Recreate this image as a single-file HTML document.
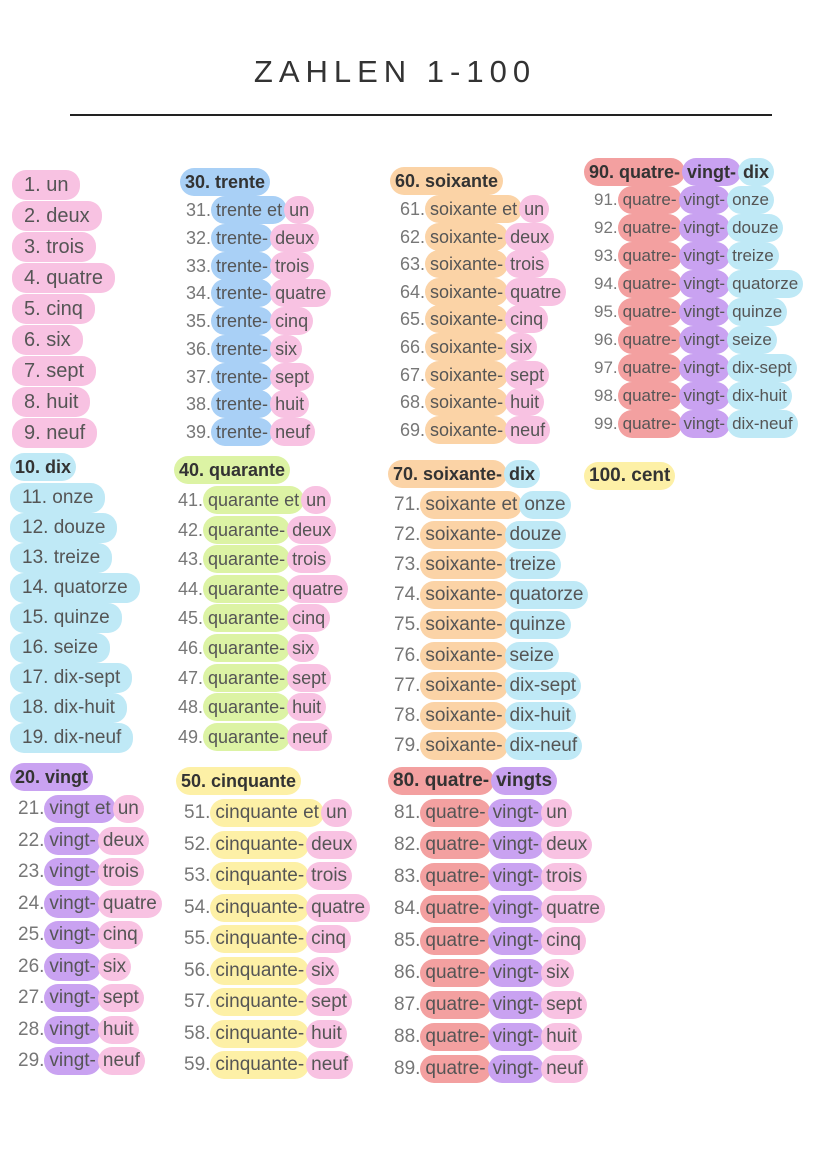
<!DOCTYPE html>
<html><head><meta charset="utf-8">
<style>
body{margin:0;background:#fff;}
#page{position:relative;width:828px;height:1171px;overflow:hidden;background:#fff;font-family:"Liberation Sans",sans-serif;}
.title{position:absolute;left:0;width:790px;text-align:center;top:54px;font-size:31px;letter-spacing:6px;color:#333;font-weight:normal;}
.rule{position:absolute;left:70px;top:114px;width:702px;height:2px;background:#222;}
.ln{position:absolute;white-space:nowrap;color:#777;line-height:28px;}
.ln span.h{display:inline-block;padding:0 5px;border-radius:14px;color:#555;margin-right:-3px;}
.ln.hd{font-weight:bold;color:#333;}
.ln.hd span.h{color:#333;}
.ln.big span.h{padding:1px 12px;}
.num{margin-right:0px;}
</style></head><body>
<div id="page">
<div class="title">ZAHLEN 1-100</div>
<div class="rule"></div>
</div>
<script>
const C={pink:'#f8c2e2',blue:'#a9d0f6',teal:'#bfe9f6',orange:'#fbd3a6',green:'#dcf3a4',yellow:'#fdf0a6',red:'#f3a0a0',purple:'#c9a2f1'};
const units=['un','deux','trois','quatre','cinq','six','sept','huit','neuf'];
const teens=['onze','douze','treize','quatorze','quinze','seize','dix-sept','dix-huit','dix-neuf'];
const page=document.getElementById('page');
function line(x,y,fs,num,segs,hd,name,extra){
  const d=document.createElement('div');
  d.className='ln'+(hd?' hd':'')+(extra?' '+extra:'');
  
  
  d.style.left=x+'px';d.style.top=(y-14)+'px';d.style.fontSize=fs+'px';
  if(num){const n=document.createElement('span');n.className='num';n.textContent=num;d.appendChild(n);}
  segs.forEach(s=>{const sp=document.createElement('span');sp.className='h';sp.style.background=C[s[1]];sp.textContent=s[0];d.appendChild(sp);});
  page.appendChild(d);
}
for(let i=0;i<9;i++)line(12,184+i*31,20,null,[[(i+1)+'. '+units[i],'pink']],false,'entry-'+(i+1),'big');
line(10,467,18,null,[['10. dix','teal']],true,'header-10');
for(let i=0;i<9;i++)line(10,497+i*30,19,null,[[(11+i)+'. '+teens[i],'teal']],false,'entry-'+(11+i),'big');
function tens(x,y0,step,fs,base,word,col,hx,hy,hsegs){
  line(hx,hy,18,null,hsegs,true,'header-'+base);
  for(let i=0;i<9;i++){
    const n=base+1+i;
    line(x,y0+i*step,fs,n+'.',[[word+(i==0?' et':'-'),col],[units[i],'pink']],false,'entry-'+n);
  }
}
tens(18,809,31.5,19,20,'vingt','purple',10,777,[['20. vingt','purple']]);
tens(186,210,27.75,18,30,'trente','blue',180,182,[['30. trente','blue']]);
tens(178,500,29.6,18,40,'quarante','green',174,470,[['40. quarante','green']]);
tens(184,813,31.5,19,50,'cinquante','yellow',176,781,[['50. cinquante','yellow']]);
tens(400,209,27.6,18,60,'soixante','orange',390,181,[['60. soixante','orange']]);
line(388,474,18,null,[['70. soixante-','orange'],['dix','teal']],true,'header-70');
for(let i=0;i<9;i++)line(394,505+i*30.1,19,(71+i)+'.',[['soixante'+(i==0?' et':'-'),'orange'],[teens[i],'teal']],false,'entry-'+(71+i));
line(388,781,19,null,[['80. quatre-','red'],['vingts','purple']],true,'header-80');
for(let i=0;i<9;i++)line(394,813+i*32,19,(81+i)+'.',[['quatre-','red'],['vingt-','purple'],[units[i],'pink']],false,'entry-'+(81+i));
line(584,172,18,null,[['90. quatre-','red'],['vingt-','purple'],['dix','teal']],true,'header-90');
for(let i=0;i<9;i++)line(594,200+i*28,17,(91+i)+'.',[['quatre-','red'],['vingt-','purple'],[teens[i],'teal']],false,'entry-'+(91+i));
line(584,476,19,null,[['100. cent','yellow']],true,'header-100');
</script>
</body></html>
